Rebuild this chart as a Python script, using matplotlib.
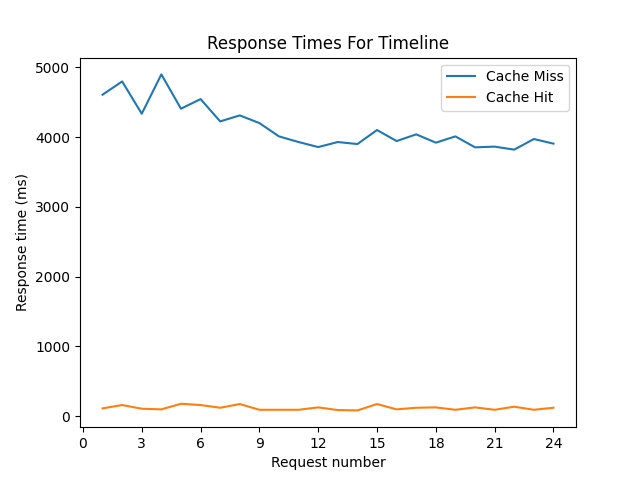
import matplotlib
matplotlib.use("Agg")
import matplotlib.pyplot as plt

requests = list(range(1, 25))
cache_miss = [4609, 4799, 4336, 4900, 4408, 4546, 4226, 4312, 4202, 4011, 3930, 3858,
              3930, 3901, 4102, 3944, 4040, 3921, 4011, 3854, 3864, 3821, 3973, 3907]
cache_hit = [110, 158, 105, 96, 176, 158, 119, 172, 90, 90, 90, 124,
             86, 81, 172, 96, 119, 124, 90, 124, 90, 134, 90, 119]
xticks = list(range(0, 25, 3))

fig, ax = plt.subplots(figsize=(6.4, 4.8), dpi=100)
ax.plot(requests, cache_miss, label="Cache Miss")
ax.plot(requests, cache_hit, label="Cache Hit")
ax.set_xticks(xticks)
ax.set_title("Response Times For Timeline")
ax.set_xlabel("Request number")
ax.set_ylabel("Response time (ms)")
ax.legend()
fig.savefig("out.png")
